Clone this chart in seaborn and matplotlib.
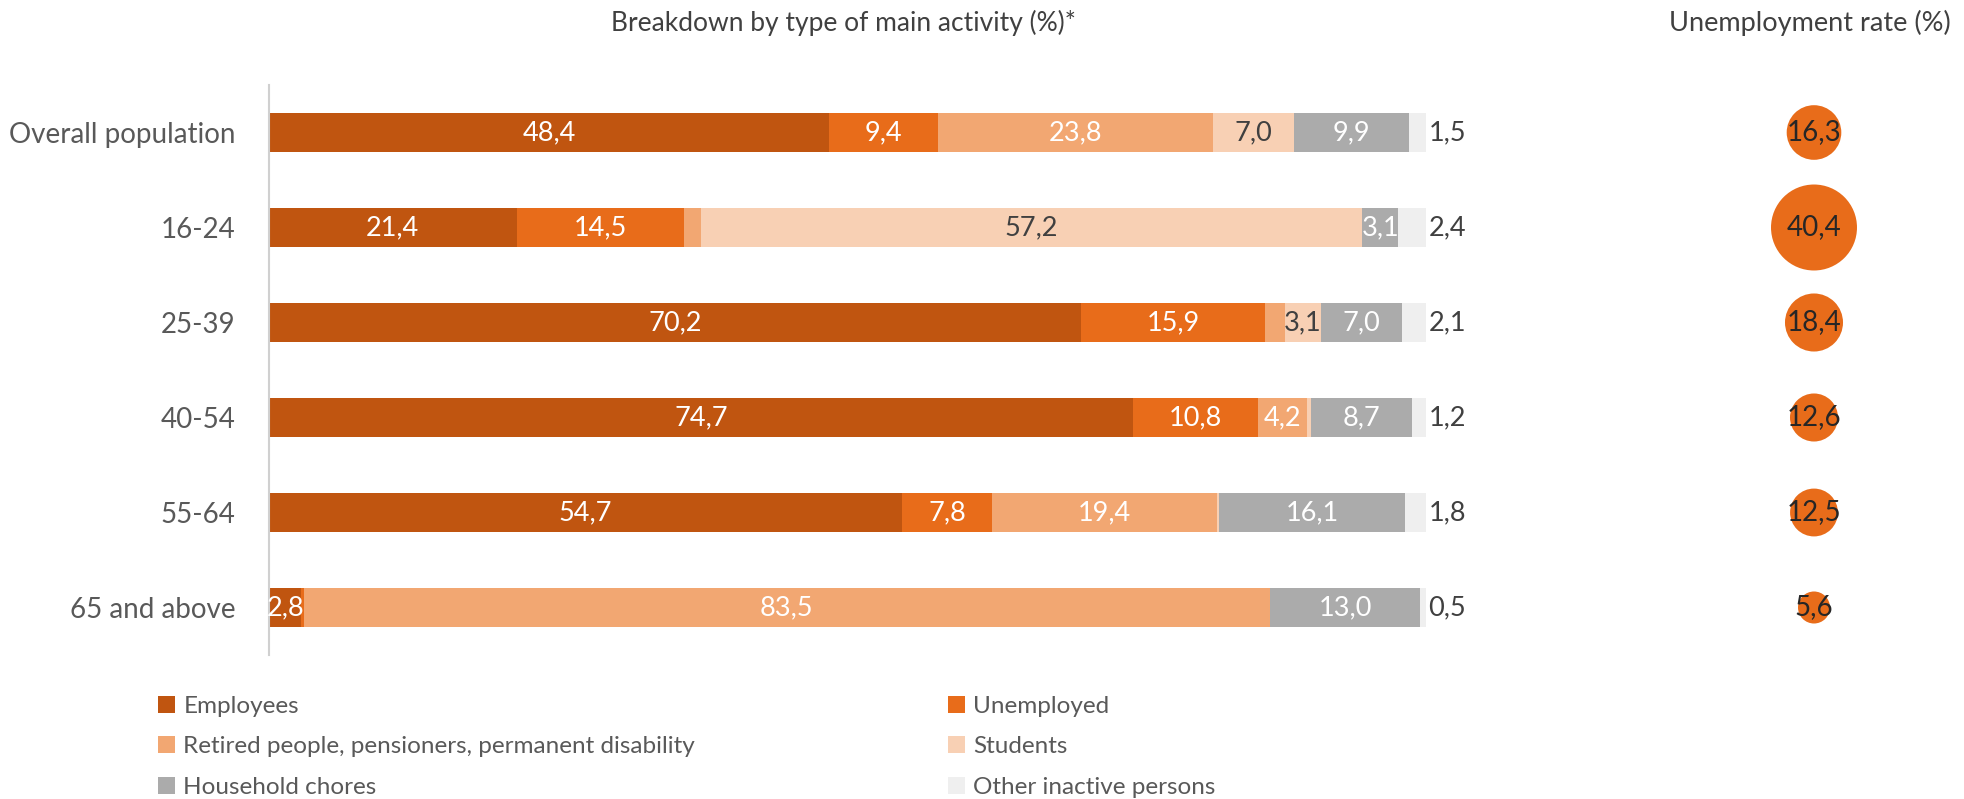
import numpy as np
import pandas as pd
import matplotlib.pyplot as plt
import seaborn as sns
from matplotlib.patches import Patch

groups = ["Overall population", "16-24", "25-39", "40-54", "55-64", "65 and above"]
activities = ["Employees", "Unemployed", "Retired people, pensioners, permanent disability",
              "Students", "Household chores", "Other inactive persons"]
employees = [48.4, 21.4, 70.2, 74.7, 54.7, 2.8]
unemployed = [9.4, 14.5, 15.9, 10.8, 7.8, 0.2]
retired = [23.8, 1.4, 1.7, 4.2, 19.4, 83.5]
students = [7.0, 57.2, 3.1, 0.4, 0.2, 0.0]
household = [9.9, 3.1, 7.0, 8.7, 16.1, 13.0]
other = [1.5, 2.4, 2.1, 1.2, 1.8, 0.5]
unemp_rate = [16.3, 40.4, 18.4, 12.6, 12.5, 5.6]

colors = ["#c05510", "#e86c1a", "#f2a772", "#f8d0b4", "#ababab", "#efefef"]
label_colors = ["white", "white", "white", "#404040", "white", None]

sns.set_style("white")
plt.rcParams["font.family"] = ["Lato", "DejaVu Sans"]

df = pd.DataFrame([employees, unemployed, retired, students, household, other],
                  index=activities, columns=groups).T
cum = df.cumsum(axis=1)

fig = plt.figure(figsize=(19.65, 7.99), dpi=100)
ax = fig.add_axes([269 / 1965, 1 - 655 / 799, 1157 / 1965, 570 / 799])

# stacked bars: draw cumulative totals from the widest layer down
for i in range(len(activities) - 1, -1, -1):
    sns.barplot(x=cum.iloc[:, i].values, y=groups, orient="h", color=colors[i],
                width=0.41, saturation=1, ax=ax, linewidth=0)

for r, g in enumerate(groups):
    for i, act in enumerate(activities[:-1]):
        v = df.loc[g, act]
        if v >= 2.0:
            xc = cum.loc[g, act] - v / 2
            ax.text(xc, r, f"{v:.1f}".replace(".", ","), ha="center", va="center",
                    color=label_colors[i], fontsize=19.5)
    ax.text(cum.loc[g, activities[-1]] + 0.2, r, f"{other[r]:.1f}".replace(".", ","),
            ha="left", va="center", color="#404040", fontsize=19.5)

ax.set_xlim(0, 100)
ax.set_ylim(5.5, -0.5)
ax.set_xlabel("")
ax.set_ylabel("")
ax.set_xticks([])
ax.tick_params(axis="y", length=0, pad=24, labelsize=20, labelcolor="#595959")
for s in ["top", "right", "bottom"]:
    ax.spines[s].set_visible(False)
ax.spines["left"].set_color("#d0d0d0")
ax.spines["left"].set_linewidth(1.5)

# unemployment rate bubbles
bx = fig.add_axes([1701 / 1965, 1 - 655 / 799, 226 / 1965, 570 / 799])
bdf = pd.DataFrame({"x": [0] * len(groups), "y": range(len(groups)), "rate": unemp_rate})
sns.scatterplot(data=bdf, x="x", y="y", size="rate", sizes=(0, 3833), size_norm=(0, 40.4),
                color="#e86c1a", linewidth=0, legend=False, ax=bx)
for r, v in enumerate(unemp_rate):
    bx.text(0, r, f"{v:.1f}".replace(".", ","), ha="center", va="center",
            color="#262626", fontsize=20)
bx.set_xlim(-1, 1)
bx.set_ylim(5.5, -0.5)
bx.axis("off")

fig.text(843 / 1965, 1 - 23 / 799, "Breakdown by type of main activity (%)*", ha="center",
         va="center", fontsize=19, color="#404040")
fig.text(1810 / 1965, 1 - 23 / 799, "Unemployment rate (%)", ha="center", va="center",
         fontsize=19.5, color="#404040")

order = [0, 2, 4, 1, 3, 5]
handles = [Patch(facecolor=colors[i], edgecolor="none", label=activities[i]) for i in order]
leg = fig.legend(handles=handles, ncol=2, loc="upper left", bbox_to_anchor=(136 / 1965, 1 - 674 / 799),
                 frameon=False, fontsize=17.5, handlelength=0.7, handleheight=0.7, handletextpad=0.35,
                 labelspacing=0.8, columnspacing=10.4, labelcolor="#595959")

fig.savefig("out.png", dpi=100, facecolor="white")
